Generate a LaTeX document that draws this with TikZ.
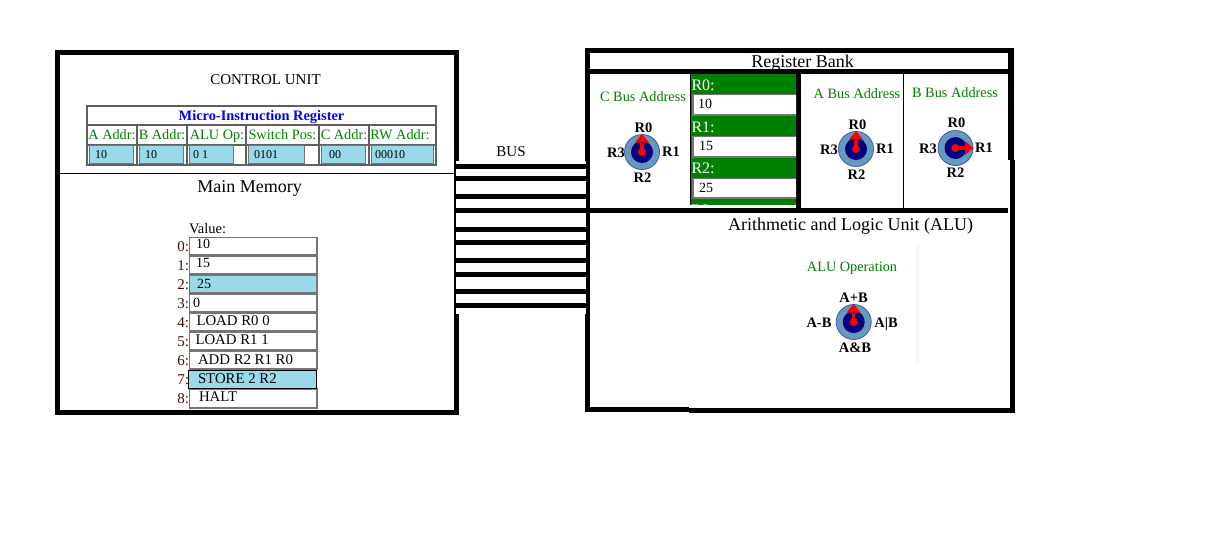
\documentclass[tikz,border=0pt]{standalone}
\usepackage{fontspec}
\setmainfont{Liberation Serif}
\definecolor{inblue}{HTML}{99D9EA}
\definecolor{inedge}{HTML}{757575}
\definecolor{tbledge}{HTML}{606060}
\definecolor{webgreen}{HTML}{008000}
\definecolor{dialout}{HTML}{6699BB}
\definecolor{dialedge}{HTML}{4455AA}
\definecolor{addrred}{HTML}{401008}
\definecolor{navy}{HTML}{000080}
\newcommand{\fs}[1]{\fontsize{#1}{#1}\selectfont}
\tikzset{
  x=1pt,y=-1pt,
  txt/.style={inner sep=0pt,outer sep=0pt,anchor=base,text=black},
  txtw/.style={inner sep=0pt,outer sep=0pt,anchor=base west,text=black},
  head/.style={txt,font=\fs{18}},
  plain/.style={txt,font=\fs{15}},
  lab/.style={txt,font=\fs{14.3},text=webgreen},
  dlab/.style={txt,font=\fs{14.5}\bfseries},
  val/.style={txtw,font=\fs{12}},
  mval/.style={txtw,font=\fs{14.8}},
  mnum/.style={txtw,font=\fs{14}},
  regv/.style={txtw,font=\fs{14}},
  addr/.style={inner sep=0pt,outer sep=0pt,anchor=base east,font=\fs{15},text=addrred},
  inp/.style={draw=inedge,line width=1.5pt,fill=white},
  inpb/.style={draw=inedge,line width=1.5pt,fill=inblue},
  tbl/.style={draw=tbledge,line width=2pt},
}
% dial: x, y, angle
\newcommand{\dial}[3]{%
  \begin{scope}[shift={(#1,#2)}]
    \fill[dialout,draw=dialedge,line width=0.8pt] (0,0) circle[radius=17.5];
    \fill[navy] (0,0) circle[radius=11];
    \begin{scope}[rotate=#3]
      \fill[red] (-1.6,0) rectangle (1.6,-9);
      \fill[red] (-7,-9.5) -- (0,-18) -- (7,-9.5) -- cycle;
      \fill[red] (0,0) circle[radius=4];
    \end{scope}
  \end{scope}}
\begin{document}
\begin{tikzpicture}
\useasboundingbox (0,0) rectangle (1209,555);
\fill[white] (0,0) rectangle (1209,555);
% control unit frame
\draw[line width=5pt,miter limit=10] (57.5,52.5) rectangle (456.5,412.5);
\draw[line width=1pt] (60,173.5) -- (454,173.5);
\node[plain] (cu) at (265.5,84) {CONTROL UNIT};
% register table
\draw[tbl] (87,106) rectangle (435.5,164.8);
\draw[tbl] (87,125) -- (435,125) (87,144.5) -- (435,144.5);
\foreach \cx in {137,187,246,319,369} \draw[tbl] (\cx,125) -- (\cx,165);
\node[txt,font=\fs{14.4}\bfseries,text=blue] (mir) at (261.5,120) {Micro-Instruction Register};
\node[lab] (ha) at (112,139) {A Addr:};
\node[lab] (hb) at (162,139) {B Addr:};
\node[lab] (hc) at (217,139) {ALU Op:};
\node[lab] (hd) at (282.5,139) {Switch Pos:};
\node[lab] (he) at (344,139) {C Addr:};
\node[lab] (hf) at (400,139) {RW Addr:};
\draw[inpb] (89.5,145.7) rectangle (133.7,163.6);
\draw[inpb] (139.5,145.7) rectangle (183.7,163.6);
\draw[inpb] (189.5,145.7) rectangle (233.7,163.6);
\draw[inpb] (248.5,145.7) rectangle (304.7,163.6);
\draw[inpb] (321.5,145.7) rectangle (365.7,163.6);
\draw[inpb] (371.5,145.7) rectangle (433.7,163.6);
\node[val] (va) at (95,158) {10};
\node[val] (vb) at (145,158) {10};
\node[val] (vc) at (193,158) {0 1};
\node[val] (vd) at (254,158) {0101};
\node[val] (ve) at (329,158) {00};
\node[val] (vf) at (375,158) {00010};
% main memory
\node[head] (mm) at (249.5,192.5) {Main Memory};
\node[txtw,font=\fs{14.5}] (value) at (189,233) {Value:};
\draw[inp] (189.7,237.7) rectangle (317,255);
\draw[inp] (189.7,256.7) rectangle (317,274);
\draw[inpb] (189.7,275.7) rectangle (317,293);
\draw[inp] (189.7,294.7) rectangle (317,312);
\draw[inp] (189.7,313.7) rectangle (317,331);
\draw[inp] (189.7,332.7) rectangle (317,350);
\draw[inp] (189.7,351.7) rectangle (317,369);
\draw[inp] (189.7,389) rectangle (317,408);
\draw[draw=black,line width=1.3pt,fill=inblue] (188.7,370.7) rectangle (316.3,388.8);
\foreach \i/\yy in {0/251,1/270,2/289,3/308,4/327,5/346,6/365,7/384,8/403}
  \node[addr] (a\i) at (189,\yy) {\i:};
\node[mnum] (m0) at (196,248.5) {10};
\node[mnum] (m1) at (196,267.5) {15};
\node[mnum] (m2) at (197,288) {25};
\node[mnum] (m3) at (193,307) {0};
\node[mval] (m4) at (196.5,325) {LOAD R0 0};
\node[mval] (m5) at (195.5,344) {LOAD R1 1};
\node[mval] (m6) at (198,364) {ADD R2 R1 R0};
\node[mval] (m7) at (198,383) {STORE 2 R2};
\node[mval] (m8) at (199,401) {HALT};
\fill (55,410) rectangle (459,415);
% register bank and ALU frame
\fill (584.5,48) rectangle (1014,53);
\fill (584.5,48) rectangle (589.5,412);
\fill (584.5,69) rectangle (1014,74);
\fill (584.5,208) rectangle (1008,213);
\fill (1008,48) rectangle (1014,160);
\fill (1010,160) rectangle (1015,413);
\fill (584.5,407) rectangle (689,412);
\fill (689,408) rectangle (1015,413);
\fill (796,74) rectangle (801,208);
\draw[line width=1pt] (903.5,74) -- (903.5,208);
\node[head] (rb) at (802.5,67) {Register Bank};
% register column
\begin{scope}
  \clip (690,74) rectangle (796,204.5);
  \fill[webgreen] (690,74) rectangle (796,204.5);
  \draw[inp] (692.9,94.7) rectangle (800,115);
  \draw[inp] (692.9,136.7) rectangle (800,157);
  \draw[inp] (692.9,178.7) rectangle (800,198);
  \node[txtw,font=\fs{16},text=white] (r0) at (691.5,90) {R0:};
  \node[txtw,font=\fs{16},text=white] (r1) at (691.5,132) {R1:};
  \node[txtw,font=\fs{16},text=white] (r2) at (691.5,173) {R2:};
  \node[txtw,font=\fs{16},text=white] (r3) at (691.5,215) {R3:};
\end{scope}
\draw[line width=1pt] (690.5,74) -- (690.5,204);
\node[regv] (rv0) at (698,108) {10};
\node[regv] (rv1) at (699,150) {15};
\node[regv] (rv2) at (699,192) {25};
% dial captions
\node[lab] (cb) at (643,101) {C Bus Address};
\node[lab] (ab) at (857,98) {A Bus Address};
\node[lab] (bb) at (955,97) {B Bus Address};
% C dial
\dial{642}{152}{0}
\node[dlab] (c0) at (643.5,132) {R0};
\node[dlab] (c1) at (671,156) {R1};
\node[dlab] (c2) at (642.5,182) {R2};
\node[dlab] (c3) at (616,157) {R3};
% A dial
\dial{856}{149}{0}
\node[dlab] (a0l) at (857.5,129) {R0};
\node[dlab] (a1l) at (885,153) {R1};
\node[dlab] (a2l) at (856.5,179) {R2};
\node[dlab] (a3l) at (829,154) {R3};
% B dial
\dial{955.5}{148}{-90}
\node[dlab] (b0) at (956.5,127) {R0};
\node[dlab] (b1) at (984,152) {R1};
\node[dlab] (b2) at (955.5,177) {R2};
\node[dlab] (b3) at (928,153) {R3};
% ALU
\node[head] (alu) at (850.5,230) {Arithmetic and Logic Unit (ALU)};
\fill[black!3] (915.5,245) rectangle (918.5,365);
\node[lab] (aop) at (852,271) {ALU Operation};
\dial{853.7}{322}{0}
\node[dlab] (o0) at (853.5,302) {A+B};
\node[dlab] (o1) at (886,327) {A|B};
\node[dlab] (o2) at (855,352) {A\&B};
\node[dlab] (o3) at (819,327) {A-B};
% bus
\fill[white] (456,161) rectangle (586,314);
\foreach \yt in {164,176,194,208,227,240,258,272,289,303}
  \fill (456,\yt) rectangle (586,\yt+5);
\node[plain] (bus) at (511,156) {BUS};
\end{tikzpicture}
\end{document}
